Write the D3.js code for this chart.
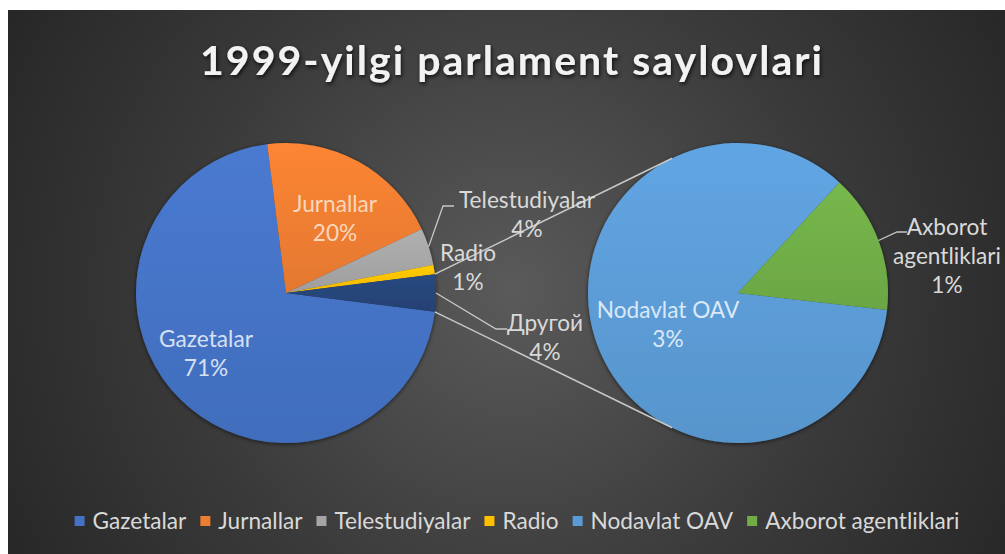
<!DOCTYPE html>
<html><head><meta charset="utf-8">
<script src="https://cdn.jsdelivr.net/npm/d3@7"></script>
<style>body{margin:0;background:#fff;} svg{display:block}</style>
</head><body>
<svg id="c" width="1005" height="554"></svg>
<script>
// ---------- data ----------
const chartTitle = "1999-yilgi parlament saylovlari";
const mainCategories = ["Gazetalar", "Jurnallar", "Telestudiyalar", "Radio"];
const mainValues = [71, 20, 4, 1];
const otherCategory = "Другой";
const subCategories = ["Nodavlat OAV", "Axborot agentliklari"];
const subValues = [3.4, 0.6];
const legendCategories = ["Gazetalar", "Jurnallar", "Telestudiyalar", "Radio", "Nodavlat OAV", "Axborot agentliklari"];
const seriesColors = ["#4472c4", "#ed7d31", "#a5a5a5", "#ffc000", "#5b9bd5", "#70ad47"];
const otherColor = "#264478";

// ---------- layout ----------
const W = 1005, H = 554;
const FONT = "Lato, 'Open Sans', sans-serif";
const L = {cx: 286, cy: 293, r: 150};
const R = {cx: 738, cy: 293, r: 150};
const subStartDeg = 96.5;

const svg = d3.select("#c");
const defs = svg.append("defs");

// background
const bg = defs.append("radialGradient").attr("id", "bg")
  .attr("gradientUnits", "userSpaceOnUse").attr("cx", 512).attr("cy", 290).attr("r", 600);
bg.append("stop").attr("offset", 0).attr("stop-color", "#5a5a5a");
bg.append("stop").attr("offset", 0.55).attr("stop-color", "#3a3a3a");
bg.append("stop").attr("offset", 1).attr("stop-color", "#252525");
svg.append("rect").attr("x", 8).attr("y", 10).attr("width", W - 8).attr("height", H - 10).attr("fill", "url(#bg)");

// shadow filters
const sh = defs.append("filter").attr("id", "pieShadow").attr("x", "-20%").attr("y", "-20%").attr("width", "140%").attr("height", "140%");
sh.append("feDropShadow").attr("dx", 0).attr("dy", 1).attr("stdDeviation", 2).attr("flood-color", "#000").attr("flood-opacity", 0.6);
const tsh = defs.append("filter").attr("id", "titleShadow").attr("x", "-10%").attr("y", "-30%").attr("width", "120%").attr("height", "160%");
tsh.append("feDropShadow").attr("dx", 1).attr("dy", 2).attr("stdDeviation", 2).attr("flood-color", "#000").attr("flood-opacity", 0.8);

function grad(id, color) {
  const g = defs.append("linearGradient").attr("id", id).attr("x1", 0).attr("y1", 0).attr("x2", 0).attr("y2", 1);
  const c = d3.color(color);
  g.append("stop").attr("offset", 0).attr("stop-color", c.brighter(0.18));
  g.append("stop").attr("offset", 1).attr("stop-color", c.darker(0.12));
  return `url(#${id})`;
}

const total = d3.sum(mainValues) + d3.sum(subValues);
const otherValue = d3.sum(subValues);
const pct = v => Math.round(v / total * 100) + "%";

// ---------- left pie ----------
const leftData = mainCategories.map((c, i) => ({name: c, v: mainValues[i], color: seriesColors[i]}))
  .concat([{name: otherCategory, v: otherValue, color: otherColor}]);
const otherFrac = otherValue / d3.sum(leftData, d => d.v);
const lStart = Math.PI / 2 + otherFrac * Math.PI;
const leftArcs = d3.pie().sort(null).value(d => d.v).startAngle(lStart).endAngle(lStart + 2 * Math.PI)(leftData);
const arcL = d3.arc().innerRadius(0).outerRadius(L.r);

const gL = svg.append("g").attr("transform", `translate(${L.cx},${L.cy})`).attr("filter", "url(#pieShadow)");
gL.selectAll("path").data(leftArcs).join("path")
  .attr("d", arcL)
  .attr("fill", (d, i) => grad("gl" + i, d.data.color));

// ---------- right pie ----------
const rightData = subCategories.map((c, i) => ({name: c, v: subValues[i], color: seriesColors[4 + i]}));
const rStart = subStartDeg * Math.PI / 180;
const rightArcs = d3.pie().sort(null).value(d => d.v).startAngle(rStart).endAngle(rStart + 2 * Math.PI)(rightData);
const arcR = d3.arc().innerRadius(0).outerRadius(R.r);
const gR = svg.append("g").attr("transform", `translate(${R.cx},${R.cy})`).attr("filter", "url(#pieShadow)");
gR.selectAll("path").data(rightArcs).join("path")
  .attr("d", arcR)
  .attr("fill", (d, i) => grad("gr" + i, d.data.color));

// ---------- connector lines (tangents) ----------
const pt = (c, a) => [c.cx + c.r * Math.sin(a), c.cy - c.r * Math.cos(a)];
const otherArc = leftArcs[leftArcs.length - 1];
function tangent(P, C, pick) {
  const dx = P[0] - C.cx, dy = P[1] - C.cy;
  const d = Math.hypot(dx, dy);
  const th = Math.atan2(dy, dx), al = Math.acos(C.r / d);
  const t1 = [C.cx + C.r * Math.cos(th + al), C.cy + C.r * Math.sin(th + al)];
  const t2 = [C.cx + C.r * Math.cos(th - al), C.cy + C.r * Math.sin(th - al)];
  return pick === "top" ? (t1[1] < t2[1] ? t1 : t2) : (t1[1] > t2[1] ? t1 : t2);
}
const pTop = pt(L, otherArc.startAngle), pBot = pt(L, otherArc.endAngle);
const conn = [[pTop, tangent(pTop, R, "top")], [pBot, tangent(pBot, R, "bot")]];
svg.append("g").selectAll("line").data(conn).join("line")
  .attr("x1", d => d[0][0]).attr("y1", d => d[0][1])
  .attr("x2", d => d[1][0]).attr("y2", d => d[1][1])
  .attr("stroke", "#c8c8c8").attr("stroke-width", 1.5);

// ---------- font calibration ----------
function measure(txt, size, weight) {
  const t = svg.append("text").attr("font-family", FONT).attr("font-size", size).attr("font-weight", weight || 400).text(txt);
  const w = t.node().getComputedTextLength(); t.remove(); return w;
}
const labelSize = 100 * 136 / measure("Telestudiyalar", 100);

// ---------- data labels ----------
const labelPos = {
  "Gazetalar": [206, 354, "#d6e0f2"],
  "Jurnallar": [335, 219, "#f9d7bd"],
  "Telestudiyalar": [527, 215, "#d9d9d9"],
  "Radio": [468, 268, "#d9d9d9"],
  "Другой": [545, 338, "#d9d9d9"],
  "Nodavlat OAV": [668, 325, "#dbe8f6"],
  "Axborot agentliklari": [947, 256, "#d9d9d9"]
};
const labelLines = {"Axborot agentliklari": ["Axborot", "agentliklari"]};
const lineH = 29;
const allLabels = leftArcs.map(a => ({name: a.data.name, v: a.data.v}))
  .concat(rightArcs.map(a => ({name: a.data.name, v: a.data.v})));
const lg = svg.append("g").attr("font-family", FONT).attr("font-size", labelSize).attr("text-anchor", "middle");
allLabels.forEach(d => {
  const p = labelPos[d.name];
  const lines = (labelLines[d.name] || [d.name]).concat([pct(d.v)]);
  const y0 = p[1] - (lines.length - 1) * lineH / 2;
  const t = lg.append("text").attr("fill", p[2]);
  lines.forEach((ln, i) => t.append("tspan").attr("x", p[0]).attr("y", y0 + i * lineH).attr("dy", "0.35em").text(ln));
});

// ---------- leader lines ----------
const teleArc = leftArcs[2];
const midA = a => (a.startAngle + a.endAngle) / 2;
const leaders = [
  [pt(L, midA(teleArc)), [443, 206], [454, 206]],
  [pt(L, midA(otherArc)), [496, 329], [507, 329]],
  [pt(R, midA(rightArcs[1])), [897, 232], [907, 232]]
];
svg.append("g").selectAll("path").data(leaders).join("path")
  .attr("d", d => d3.line()(d)).attr("fill", "none")
  .attr("stroke", "#c8c8c8").attr("stroke-width", 1.3);

// ---------- title ----------
const titleSize = 41;
const tw0 = measure(chartTitle, titleSize, 700);
const spacing = (622 - tw0) / (chartTitle.length - 1);
svg.append("text").attr("x", 200).attr("y", 75)
  .attr("font-family", FONT).attr("font-size", titleSize).attr("font-weight", 700)
  .attr("letter-spacing", spacing).attr("fill", "#f2f2f2").attr("filter", "url(#titleShadow)")
  .text(chartTitle);

// ---------- legend ----------
const legG = svg.append("g").attr("font-family", FONT).attr("font-size", labelSize);
const sq = 10, sqGap = 8, itemGap = 14;
const widths = legendCategories.map(c => measure(c, labelSize));
const totalW = d3.sum(widths) + legendCategories.length * (sq + sqGap) + (legendCategories.length - 1) * itemGap;
let x = 517 - totalW / 2;
const legY = 521;
legendCategories.forEach((c, i) => {
  legG.append("rect").attr("x", x).attr("y", legY - sq / 2).attr("width", sq).attr("height", sq).attr("fill", seriesColors[i]);
  legG.append("text").attr("x", x + sq + sqGap).attr("y", legY).attr("dy", "0.35em").attr("fill", "#d9d9d9").text(c);
  x += sq + sqGap + widths[i] + itemGap;
});
</script>
</body></html>
